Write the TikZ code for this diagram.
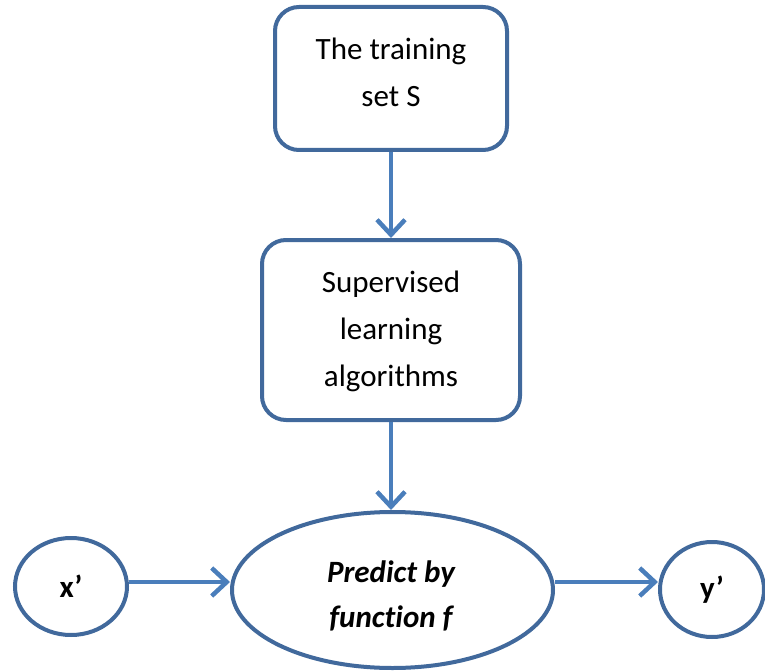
\documentclass[tikz,border=0pt]{standalone}
\usepackage{fontspec}
\setmainfont{Carlito}[Ligatures=NoCommon]
\usetikzlibrary{shapes.geometric,arrows.meta}
\definecolor{boxblue}{HTML}{41699C}
\definecolor{arrblue}{HTML}{4A7EBB}
\begin{document}
\begin{tikzpicture}[x=1pt,y=-1pt,
  box/.style={draw=boxblue, line width=4pt, rounded corners=24pt, fill=white, inner sep=0pt},
  oval/.style={ellipse, draw=boxblue, line width=4pt, fill=white, inner sep=0pt},
  txt/.style={align=center, font=\fontsize{31}{47}\selectfont, inner sep=0pt},
  btxt/.style={align=center, font=\fontsize{31}{45}\selectfont\bfseries\itshape, inner sep=0pt},
  conn/.style={draw=arrblue, line width=4.5pt, -{Straight Barb[length=15pt,width=28pt]}}
]
\useasboundingbox (0,0) rectangle (765,671);
\node[box, minimum width=232pt, minimum height=143pt] (top) at (391,78.5) {};
\node[txt] (toptext) at (391,72) {The training\\set S};
\node[box, minimum width=258pt, minimum height=180pt] (mid) at (391,330) {};
\node[txt] (midtext) at (391,331) {Supervised\\learning\\algorithms};
\node[oval, minimum width=321pt, minimum height=156pt] (pred) at (392.5,590) {};
\node[btxt] (predtext) at (391,596) {Predict by\\function f};
\node[oval, minimum width=112pt, minimum height=97pt, font=\fontsize{31}{37}\selectfont\bfseries] (xp) at (71,586.5) {x’};
\node[oval, minimum width=104pt, minimum height=95pt, font=\fontsize{31}{37}\selectfont\bfseries] (yp) at (712,589.5) {y’};
\draw[conn] (top.south) -- (top.south |- mid.north);
\draw[conn] (mid.south) -- (mid.south |- pred.north);
\draw[conn] (xp.east |- 0,582) -- (pred.west |- 0,582);
\draw[conn] (pred.east |- 0,582) -- (yp.west |- 0,582);
\end{tikzpicture}
\end{document}
